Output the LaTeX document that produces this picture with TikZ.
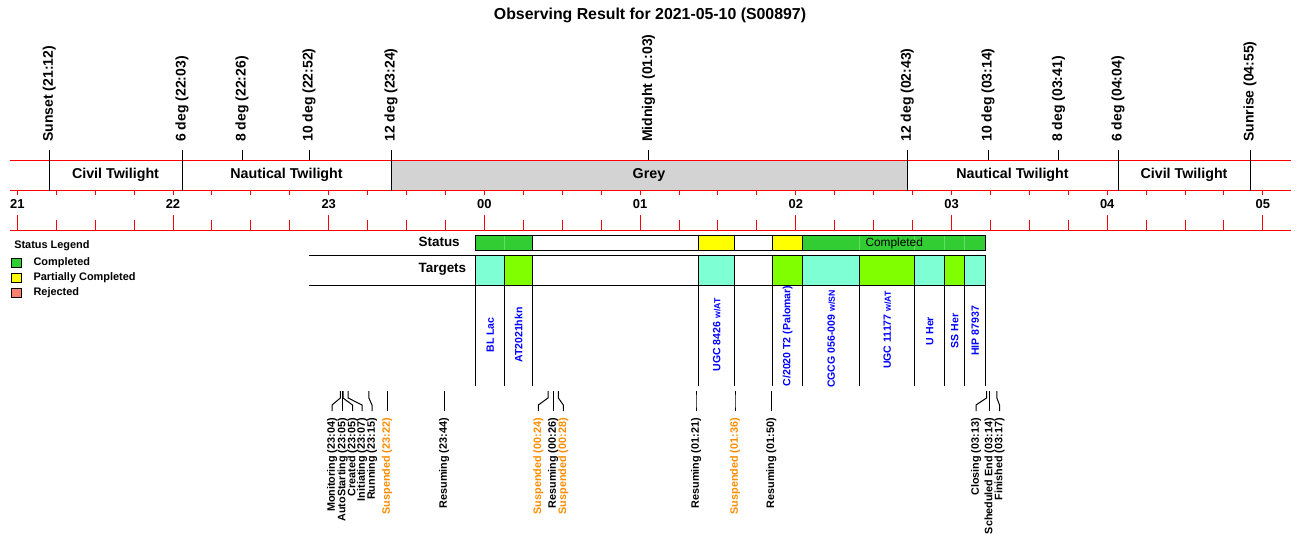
\documentclass[tikz,border=0pt]{standalone}
\usepackage{fontspec}
\setmainfont{Liberation Sans}
\definecolor{lgreen}{HTML}{32CD32}
\definecolor{faintg}{HTML}{66DD66}
\definecolor{aquam}{HTML}{7FFFD4}
\definecolor{chartr}{HTML}{7FFF00}
\definecolor{greyband}{HTML}{D3D3D3}
\definecolor{salm}{HTML}{FA8072}
\definecolor{dorange}{HTML}{FF8C00}
\definecolor{yel}{HTML}{FFFF00}
\newcommand{\smallpart}[1]{{\fontsize{6.6}{8}\selectfont #1}}
\begin{document}
\begin{tikzpicture}[x=0.75pt,y=-0.75pt,
  redl/.style={red,line width=0.75pt},
  blk/.style={black,line width=0.75pt},
  toplbl/.style={rotate=90,anchor=west,inner sep=0pt,font=\fontsize{10.5}{12}\selectfont\bfseries},
  bandlbl/.style={inner sep=0pt,font=\fontsize{10.7}{12}\selectfont\bfseries},
  hourlbl/.style={inner sep=0pt,font=\fontsize{9.7}{11}\selectfont\bfseries},
  evlbl/.style={rotate=90,anchor=east,inner sep=0pt,font=\fontsize{8.1}{9}\selectfont\bfseries},
  tglbl/.style={rotate=90,inner sep=0pt,text=blue,font=\fontsize{7.9}{9}\selectfont\bfseries},
  rowlbl/.style={anchor=west,inner sep=0pt,font=\fontsize{10.1}{12}\selectfont\bfseries},
  leglbl/.style={anchor=west,inner sep=0pt,font=\fontsize{8.2}{10}\selectfont\bfseries},
  legbox/.style={draw=black,line width=0.75pt}]
\useasboundingbox (0,0) rectangle (1300,560);

% title
\node[inner sep=0pt,font=\fontsize{11.9}{14}\selectfont\bfseries] (title) at (650,15) {Observing Result for 2021-05-10 (S00897)};

% band
\fill[greyband] (391,160) rectangle (907.3,190.7);
\draw[redl] (10,160) -- (1291,160);
\draw[redl] (10,190.7) -- (1291,190.7);
\draw[redl] (10,230.3) -- (1291,230.3);

% ticks
\foreach \i in {0,...,32} {
  \pgfmathsetmacro\xx{17.3+38.925*\i}
  \draw[redl] (\xx,190.7) -- (\xx,194.7);
  \pgfmathtruncatemacro\mm{mod(\i,4)}
  \ifnum\mm=0
    \draw[redl] (\xx,215.3) -- (\xx,230.3);
  \else
    \draw[redl] (\xx,220.3) -- (\xx,230.3);
  \fi
}
\foreach \k/\h in {0/21,1/22,2/23,3/00,4/01,5/02,6/03,7/04,8/05} {
  \node[hourlbl] (h\k) at ({17.3+155.7*\k},204) {\h};
}

% band labels
\node[bandlbl] (civ1) at (115.5,174.5) {Civil Twilight};
\node[bandlbl] (nau1) at (286.5,174.5) {Nautical Twilight};
\node[bandlbl] (grey) at (649,174.5) {Grey};
\node[bandlbl] (nau2) at (1012.5,174.5) {Nautical Twilight};
\node[bandlbl] (civ2) at (1184,174.5) {Civil Twilight};

% top markers (long lines)
\foreach \x/\t/\n in {49.3/Sunset (21:12)/sunset, 182/6 deg (22:03)/six1, 391/12 deg (23:24)/twelve1, 907.3/12 deg (02:43)/twelve2, 1118/6 deg (04:04)/six2, 1250/Sunrise (04:55)/sunrise} {
  \node[toplbl] (\n) at (\x,142) {\t};
  \draw[blk] (\x,150) -- (\x,190.7);
}
% top markers (short ticks)
\foreach \x/\t/\n in {242/8 deg (22:26)/eight1, 309/10 deg (22:52)/ten1, 648.5/Midnight (01:03)/midnight, 988/10 deg (03:14)/ten2, 1058.5/8 deg (03:41)/eight2} {
  \node[toplbl] (\n) at (\x,142) {\t};
  \draw[blk] (\x,150) -- (\x,160);
}

% legend
\node[leglbl] (legt) at (14,246) {Status Legend};
\draw[legbox,fill=lgreen] (11.3,258.3) rectangle (21.3,267.3);
\draw[legbox,fill=yel] (11.3,273.3) rectangle (21.3,282.3);
\draw[legbox,fill=salm] (11.3,288.3) rectangle (21.3,297.7);
\node[leglbl] (leg1) at (33.3,263) {Completed};
\node[leglbl] (leg2) at (33.3,278) {Partially Completed};
\node[leglbl] (leg3) at (33.3,293) {Rejected};

% status row
\node[rowlbl] (statusl) at (418.3,241.5) {Status};
\fill[lgreen] (475.7,235.5) rectangle (532.3,250.3);
\fill[yel] (698.7,235.5) rectangle (734.7,250.3);
\fill[yel] (772.7,235.5) rectangle (802.7,250.3);
\fill[lgreen] (802.7,235.5) rectangle (985.7,250.3);
\foreach \x in {504.7,859.7,914.7,944.7,964.7} {
  \draw[faintg,line width=0.6pt] (\x,236) -- (\x,249.8);
}
\foreach \x in {532.3,698.7,734.7,772.7,802.7} {
  \draw[blk] (\x,235.5) -- (\x,250.3);
}
\draw[blk] (475.7,235.5) rectangle (985.7,250.3);
\node[inner sep=0pt,font=\fontsize{8.9}{10}\selectfont] (compl) at (894.2,243) {Completed};

% targets row
\node[rowlbl] (targetsl) at (418.3,269.5) {Targets};
\fill[aquam] (475.7,255) rectangle (504.7,285.3);
\fill[chartr] (504.7,255) rectangle (532.3,285.3);
\fill[aquam] (698.7,255) rectangle (734.7,285.3);
\fill[chartr] (772.7,255) rectangle (802.7,285.3);
\fill[aquam] (802.7,255) rectangle (859.7,285.3);
\fill[chartr] (859.7,255) rectangle (914.7,285.3);
\fill[aquam] (914.7,255) rectangle (944.7,285.3);
\fill[chartr] (944.7,255) rectangle (964.7,285.3);
\fill[aquam] (964.7,255) rectangle (985.7,285.3);
\draw[blk] (309,255) -- (985.7,255);
\draw[blk] (309,285.3) -- (985.7,285.3);
\foreach \x in {475.7,504.7,532.3,698.7,734.7,772.7,802.7,859.7,914.7,944.7,964.7,985.7} {
  \draw[blk] (\x,255) -- (\x,385.7);
}
\node[tglbl] (t1) at (490.2,335) {BL Lac};
\node[tglbl] (t2) at (518.5,335) {AT2021hkn};
\node[tglbl] (t3) at (716.7,335) {UGC 8426 \smallpart{w/AT}};
\node[tglbl] (t4) at (787.7,336) {C/2020 T2 (Palomar)};
\node[tglbl] (t5) at (831.2,339) {CGCG 056-009 \smallpart{w/SN}};
\node[tglbl] (t6) at (887.2,330) {UGC 11177 \smallpart{w/AT}};
\node[tglbl] (t7) at (929.7,331) {U Her};
\node[tglbl] (t8) at (954.7,331) {SS Her};
\node[tglbl] (t9) at (975.2,331) {HIP 87937};

% events
\foreach \tx/\lx/\txt/\col/\n in {
  340.4/332/Monitoring (23:04)/black/e1,
  342.5/342.5/AutoStarting (23:05)/black/e2,
  343/352.5/Created (23:05)/black/e3,
  348.2/362/Initiating (23:07)/black/e4,
  368.9/372/Running (23:15)/black/e5,
  387.1/387.1/Suspended (23:22)/dorange/e6,
  444.2/444.2/Resuming (23:44)/black/e7,
  548/538.3/Suspended (00:24)/dorange/e8,
  553.2/553.2/Resuming (00:26)/black/e9,
  558.4/563.3/Suspended (00:28)/dorange/e10,
  696/696/Resuming (01:21)/black/e11,
  735/735/Suspended (01:36)/dorange/e12,
  771.3/771.3/Resuming (01:50)/black/e13,
  986.5/976/Closing (03:13)/black/e14,
  989.5/989.5/Scheduled End (03:14)/black/e15,
  996.9/999.5/Finished (03:17)/black/e16} {
  \draw[blk] (\tx,391) -- (\tx,398) -- (\lx,405) -- (\lx,411);
  \node[evlbl,text=\col] (\n) at (\lx,418) {\txt};
}
\end{tikzpicture}
\end{document}
